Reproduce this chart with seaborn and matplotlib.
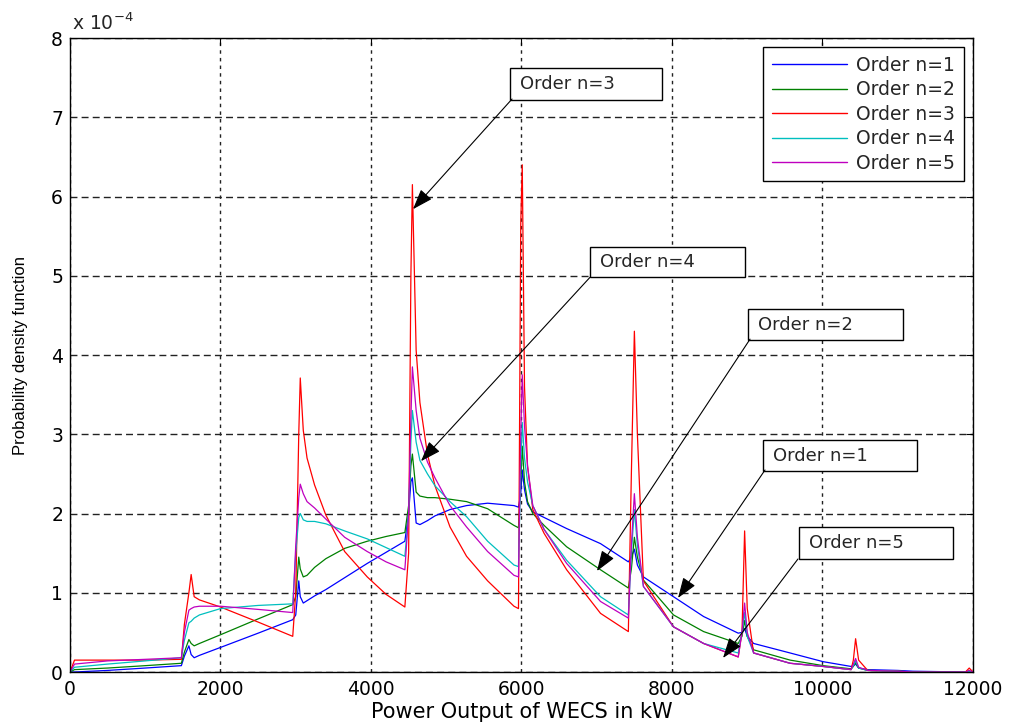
import matplotlib
matplotlib.use("Agg")
import matplotlib.pyplot as plt
from matplotlib.patches import Rectangle
from matplotlib.ticker import FuncFormatter
import pandas as pd
import seaborn as sns

# Wind-farm output grid (kW) and PDF values for each order (in units of 1e-4)
power_kw = [
    0, 60, 500, 1000, 1480,
    1520, 1580, 1610, 1650, 1720, 2000, 2500, 2960,
    3000, 3040, 3060, 3100, 3150, 3250, 3400, 3650, 3950, 4200, 4450,
    4500, 4530, 4550, 4600, 4650, 4750, 4850, 5050, 5270, 5550, 5900, 5960,
    5990, 6010, 6040, 6080, 6150, 6300, 6600, 7050, 7420,
    7460, 7500, 7540, 7620, 8020, 8420, 8880,
    8930, 8965, 9000, 9085, 9570, 10010, 10380,
    10410, 10440, 10480, 10600, 11000, 11200, 11900, 11950, 12000,
]

pdf_n1 = [
    0, 0.0, 0.02, 0.05, 0.08,
    0.2, 0.33, 0.22, 0.18, 0.21, 0.31, 0.49, 0.66,
    0.72, 1.15, 0.95, 0.87, 0.9, 0.96, 1.04, 1.19, 1.37, 1.51, 1.65,
    2.0, 2.4, 2.45, 1.88, 1.86, 1.91, 1.97, 2.05, 2.1, 2.13, 2.1, 2.08,
    2.25, 2.55, 2.3, 2.12, 2.02, 1.95, 1.81, 1.62, 1.39,
    1.45, 1.55, 1.35, 1.2, 0.95, 0.70, 0.49,
    0.5, 0.55, 0.45, 0.36, 0.24, 0.13, 0.07,
    0.08, 0.1, 0.05, 0.03, 0.02, 0.01, 0.0, 0.0, 0.0,
]

pdf_n2 = [
    0, 0.03, 0.05, 0.08, 0.11,
    0.25, 0.41, 0.36, 0.33, 0.36, 0.47, 0.67, 0.85,
    0.95, 1.45, 1.3, 1.2, 1.22, 1.32, 1.43, 1.56, 1.65, 1.71, 1.76,
    2.1, 2.6, 2.75, 2.27, 2.22, 2.2, 2.2, 2.18, 2.15, 2.06, 1.85, 1.82,
    2.4, 2.85, 2.4, 2.15, 2.0, 1.85, 1.58, 1.29, 1.06,
    1.3, 1.7, 1.45, 1.16, 0.72, 0.51, 0.36,
    0.45, 0.65, 0.45, 0.28, 0.15, 0.08, 0.04,
    0.07, 0.12, 0.05, 0.02, 0.01, 0.0, 0.0, 0.01, 0.0,
]

pdf_n3 = [
    0, 0.15, 0.15, 0.15, 0.16,
    0.6, 1.0, 1.23, 0.95, 0.91, 0.82, 0.63, 0.45,
    1.0, 3.0, 3.71, 3.05, 2.7, 2.36, 1.98, 1.52, 1.2, 0.98, 0.82,
    1.5, 5.0, 6.15, 4.06, 3.4, 2.75, 2.35, 1.83, 1.46, 1.15, 0.83, 0.8,
    5.65, 6.4, 3.6, 2.6, 2.05, 1.75, 1.29, 0.74, 0.51,
    2.5, 4.3, 3.0, 1.15, 0.57, 0.36, 0.19,
    0.5, 1.78, 0.8, 0.24, 0.11, 0.07, 0.03,
    0.15, 0.42, 0.15, 0.02, 0.01, 0.0, 0.0, 0.05, 0.0,
]

pdf_n4 = [
    0, 0.06, 0.1, 0.14, 0.18,
    0.4, 0.62, 0.64, 0.68, 0.72, 0.8, 0.84, 0.86,
    1.5, 1.95, 2.0, 1.92, 1.9, 1.9, 1.87, 1.78, 1.68, 1.57, 1.46,
    2.0, 2.9, 3.3, 2.9, 2.67, 2.5, 2.35, 2.15, 1.96, 1.65, 1.35, 1.33,
    2.6, 3.15, 2.7, 2.4, 2.1, 1.8, 1.41, 0.95, 0.72,
    1.5, 2.05, 1.6, 1.08, 0.57, 0.36, 0.24,
    0.5, 0.75, 0.45, 0.24, 0.11, 0.07, 0.03,
    0.08, 0.14, 0.05, 0.02, 0.01, 0.0, 0.0, 0.01, 0.0,
]

pdf_n5 = [
    0, 0.1, 0.14, 0.16, 0.18,
    0.5, 0.78, 0.8, 0.82, 0.83, 0.83, 0.79, 0.75,
    1.6, 2.2, 2.37, 2.25, 2.15, 2.07, 1.93, 1.7, 1.52, 1.39, 1.29,
    2.0, 3.2, 3.85, 3.3, 2.95, 2.65, 2.45, 2.1, 1.83, 1.52, 1.22, 1.2,
    3.0, 3.75, 3.1, 2.6, 2.1, 1.8, 1.37, 0.89, 0.68,
    1.6, 2.25, 1.7, 1.08, 0.57, 0.36, 0.19,
    0.5, 0.87, 0.5, 0.24, 0.11, 0.07, 0.03,
    0.1, 0.17, 0.06, 0.02, 0.01, 0.0, 0.0, 0.02, 0.0,
]

orders = ["Order n=1", "Order n=2", "Order n=3", "Order n=4", "Order n=5"]
series = [pdf_n1, pdf_n2, pdf_n3, pdf_n4, pdf_n5]
colors = ["#0000ff", "#008000", "#ff0000", "#00bfbf", "#bf00bf"]
SCALE = 1e-4

x_ticks = [0, 2000, 4000, 6000, 8000, 10000, 12000]
y_ticks = [0, 1, 2, 3, 4, 5, 6, 7, 8]

# Callout boxes: label, box (x0, y0, x1, y1), arrow tail, arrow head
callouts = [
    ("Order n=3", (5847, 7.218, 7867, 7.621), (5874, 7.23), (4558, 5.84)),
    ("Order n=4", (6910, 4.984, 8970, 5.363), (6910, 4.98), (4664, 2.66)),
    ("Order n=2", (9010, 4.189, 11070, 4.580), (9037, 4.20), (7003, 1.274)),
    ("Order n=1", (9209, 2.536, 11256, 2.927), (9236, 2.549), (8080, 0.934)),
    ("Order n=5", (9688, 1.426, 11734, 1.830), (9674, 1.426), (8678, 0.177)),
]

frames = []
for name, vals in zip(orders, series):
    frames.append(pd.DataFrame({
        "power_kw": power_kw,
        "pdf": [v * SCALE for v in vals],
        "order": name,
    }))
df = pd.concat(frames, ignore_index=True)

sns.set_style("white")
plt.rcParams["font.family"] = ["DejaVu Sans"]

fig = plt.figure(figsize=(10.12, 7.25), dpi=100)
ax = fig.add_axes([0.06917, 0.07310, 0.89229, 0.87448])

sns.lineplot(
    data=df, x="power_kw", y="pdf", hue="order", hue_order=orders,
    palette=colors, estimator=None, sort=False, linewidth=0.9, ax=ax,
)

ax.set_xlim(0, 12000)
ax.set_ylim(0, 8 * SCALE)
ax.set_xticks(x_ticks)
ax.set_yticks([t * SCALE for t in y_ticks])
ax.xaxis.set_major_formatter(FuncFormatter(lambda v, p: f"{v:.0f}"))
ax.yaxis.set_major_formatter(FuncFormatter(lambda v, p: f"{v / SCALE:.0f}"))
ax.tick_params(direction="in", length=5, width=0.8, top=True, right=True,
               labelsize=13.5, colors="black")
ax.tick_params(axis="x", pad=6)
ax.tick_params(axis="y", pad=5)

for s in ax.spines.values():
    s.set_color("black")
    s.set_linewidth(1.0)

ax.xaxis.grid(True, color="#222222", linewidth=1.0, linestyle=(0, (2.5, 3)))
ax.yaxis.grid(True, color="#222222", linewidth=1.0, linestyle=(0, (5, 3)))
ax.set_axisbelow(True)

ax.set_xlabel("Power Output of WECS in kW", fontsize=15, color="black")
ax.xaxis.set_label_coords(0.5, -0.047)
ax.xaxis.label.set_va("top")
ax.set_ylabel("Probability density function", fontsize=12,
              family="Liberation Sans", color="black")
ax.yaxis.set_label_coords(-0.047, 0.5)

ax.text(0.002, 1.0126, r"x 10$^{-4}$", transform=ax.transAxes,
        fontsize=13.5, va="baseline", ha="left")

sns.move_legend(
    ax, "upper right", title=None, frameon=True, fontsize=13.5,
    handlelength=4.0, labelspacing=0.29, borderpad=0.45, handletextpad=0.5,
    fancybox=False, edgecolor="black", framealpha=1, borderaxespad=0.5,
)
leg = ax.get_legend()
leg.get_frame().set_linewidth(1.0)
for line in leg.get_lines():
    line.set_linewidth(1.0)

for label, (x0, y0, x1, y1), (tx, ty), (hx, hy) in callouts:
    ax.add_patch(Rectangle((x0, y0 * SCALE), x1 - x0, (y1 - y0) * SCALE,
                           facecolor="white", edgecolor="black",
                           linewidth=1.0, zorder=6))
    ax.text(x0 + 133, (y0 + y1) / 2 * SCALE, label, fontsize=13,
            va="center", ha="left", zorder=7)
    ax.annotate(
        "", xy=(hx, hy * SCALE), xytext=(tx, ty * SCALE),
        arrowprops=dict(arrowstyle="-|>,head_length=0.9,head_width=0.32",
                        color="black", lw=0.8, shrinkA=0, shrinkB=0,
                        mutation_scale=14),
        zorder=7,
    )

fig.savefig("out.png", dpi=100, facecolor="white")
